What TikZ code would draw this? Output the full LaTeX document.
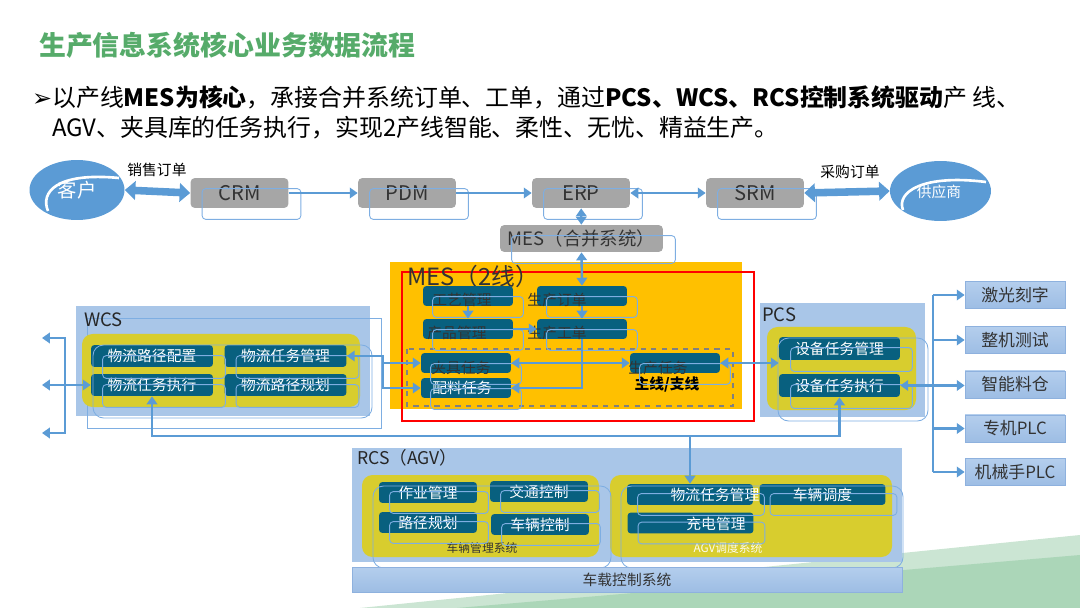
\documentclass[tikz,border=0pt]{standalone}
\usepackage{fontspec}
\setmainfont{Noto Sans CJK SC}
\newfontfamily\symfont{DejaVu Sans}
\usetikzlibrary{arrows.meta,positioning,shapes.geometric}

\definecolor{titlegreen}{HTML}{56AB6A}
\definecolor{cblue}{HTML}{5B9BD5}
\definecolor{panelblue}{HTML}{A9C6E8}
\definecolor{olive}{HTML}{D8CD2E}
\definecolor{teal}{HTML}{08607F}
\definecolor{gbox}{HTML}{A6A6A6}
\definecolor{ghostc}{HTML}{7EAEE2}
\definecolor{mesyellow}{HTML}{FFC000}
\definecolor{listtop}{HTML}{B4CEED}
\definecolor{listbot}{HTML}{9DBDE4}
\definecolor{listedge}{HTML}{8EB1DE}
\definecolor{lightgreen}{HTML}{CBE5D3}
\definecolor{midgreen}{HTML}{ABD6B8}
\definecolor{textdark}{HTML}{333333}

\begin{document}
\begin{tikzpicture}[x=0.02cm,y=-0.02cm,
    >={Triangle[length=4.5pt,width=6pt]},
    flow/.style={draw=cblue,line width=1.4pt},
    fat/.style={draw=cblue,line width=4.3pt,
      {Triangle[length=6pt,width=10.5pt]}-{Triangle[length=6pt,width=10.5pt]}},
    ghost/.style={draw=ghostc,line width=0.5pt,rounded corners=2pt},
    party/.style={ellipse,fill=cblue,minimum width=1.9cm,minimum height=1.2cm},
    party text/.style={text=white},
    grey box/.style={fill=gbox,rounded corners=2.5pt,minimum width=1.96cm,minimum height=0.6cm,
      inner sep=0pt,text=textdark,font=\fontsize{11.5}{13}\selectfont},
    task/.style={fill=teal,rounded corners=2pt,inner sep=0pt,text=white,font=\fontsize{8.4}{10}\selectfont},
    wcs box/.style={task,minimum width=2.44cm,minimum height=0.44cm},
    pcs box/.style={task,minimum width=2.42cm,minimum height=0.46cm},
    mes box/.style={task,minimum width=1.8cm,minimum height=0.4cm},
    rcs box/.style={task,minimum width=1.96cm,minimum height=0.42cm},
    agv box/.style={task,minimum width=2.52cm,minimum height=0.42cm},
    mes text/.style={text=textdark,font=\fontsize{8.4}{10}\selectfont},
    list box/.style={top color=listtop,bottom color=listbot,draw=listedge,line width=0.4pt,
      minimum width=2cm,minimum height=0.48cm,text=textdark,font=\fontsize{9.6}{11}\selectfont},
    panel title/.style={anchor=west,text=black!85,font=\fontsize{10.5}{12}\selectfont},
    sub title/.style={text=textdark,font=\fontsize{6.7}{8}\selectfont}]
    \useasboundingbox (0,0) rectangle (1080,608);

    % background band
    \fill[lightgreen] (360,608) -- (1080,535) -- (1080,608) -- cycle;
    \fill[midgreen] (457,608) -- (1080,555) -- (1080,608) -- cycle;

    % heading
    \node[anchor=west,text=titlegreen,font=\fontsize{15.3}{18}\selectfont\bfseries] (title) at (33,45)
        {生产信息系统核心业务数据流程};
    \node[anchor=west,font=\fontsize{13.6}{16}\selectfont] (line1) at (26,97)
        {{\symfont ➢}以产线\textbf{MES为核心}，承接合并系统订单、工单，通过\textbf{PCS、WCS、RCS控制系统驱动}产 线、};
    \node[anchor=west,font=\fontsize{13.6}{16}\selectfont] (line2) at (46,128)
        {AGV、夹具库的任务执行，实现2产线智能、柔性、无忧、精益生产。};

    % top row
    \node[party] (kh) at (77,190) {};
    \node[party,minimum width=2.02cm] (gys) at (940.5,191) {};
    \draw[draw=white,line width=1.5pt] (48,211) .. controls (40,192) and (57,172) .. (119,178);
    \draw[draw=white,line width=1.5pt] (903,210) .. controls (896,192) and (923,174) .. (986,182);
    \node[party text,font=\fontsize{11}{13}\selectfont] (kht) at (kh.center) {客户};
    \node[party text,font=\fontsize{8.4}{10}\selectfont] (gyst) at (939,192) {供应商};
    \node[grey box] (crm) at (239.5,193) {CRM};
    \node[grey box] (pdm) at (407,193) {PDM};
    \node[grey box] (erp) at (581,193) {ERP};
    \node[grey box] (srm) at (755,193) {SRM};
    \node[grey box,minimum width=3.26cm,minimum height=0.54cm,font=\fontsize{10.5}{12}\selectfont] (mesh) at (581.5,238.5) {MES（合并系统）};
    \node[font=\fontsize{8.4}{10}\selectfont] (xsdd) at (157,170) {销售订单};
    \node[font=\fontsize{8.4}{10}\selectfont] (cgdd) at (850,172) {采购订单};

    % MES (2 lines)
    \fill[mesyellow] (390,262) rectangle (742,409);
    \draw[red,line width=1.2pt] (402,272) rectangle (754,421);
    \draw[gray,dashed,line width=0.7pt] (407,349) rectangle (733,406);
    \node[anchor=west,text=textdark,font=\fontsize{13.5}{15}\selectfont] (mes) at (401,276) {MES（2线）};
    \node[mes box] (gy) at (468,296) {};
    \node[mes box] (dd) at (582,296) {};
    \node[mes box] (cp) at (468,329) {};
    \node[mes box] (gd) at (582,329) {};
    \node[mes box] (jj) at (466,363) {};
    \node[mes box] (pl) at (466,388) {};
    \node[mes box] (sc) at (675,363) {};
    \node[mes text] (gyt) at (462,300) {工艺管理};
    \node[mes text] (ddt) at (557,300) {生产订单};
    \node[mes text] (cpt) at (457,333) {产品管理};
    \node[mes text] (gdt) at (557,333) {生产工单};
    \node[mes text] (jjt) at (461,368) {夹具任务};
    \node[mes text,text=white] (plt) at (462,388) {配料任务};
    \node[mes text] (sct) at (658,368) {生产任务};
    \node[text=black,font=\fontsize{8.4}{10}\selectfont\bfseries] (zx) at (667,385) {主线/支线};

    % WCS
    \fill[panelblue] (76,306) rectangle (370,416);
    \draw[ghost,rounded corners=0pt] (87,318) rectangle (381,428);
    \fill[olive,rounded corners=6pt] (82,334) rectangle (360,407);
    \node[panel title] (wcs) at (78,320) {WCS};
    \node[wcs box] (wpc) at (152,356) {物流路径配置};
    \node[wcs box] (wtm) at (285.5,356) {物流任务管理};
    \node[wcs box] (wte) at (152,385) {物流任务执行};
    \node[wcs box] (wpp) at (285.5,385) {物流路径规划};
    \draw[ghost,rounded corners=6pt] (93,345) rectangle (372,418);

    % PCS
    \fill[panelblue] (760,303) rectangle (925,417);
    \fill[olive,rounded corners=6pt] (767,327) rectangle (916,410);
    \node[panel title] (pcs) at (756,315) {PCS};
    \node[pcs box] (pm) at (839.5,348.5) {设备任务管理};
    \node[pcs box] (pe) at (839.5,385.5) {设备任务执行};
    \draw[ghost,rounded corners=6pt] (778,338) rectangle (928,421);

    % devices
    \node[list box] (jg) at (1015,295) {激光刻字};
    \node[list box] (zj) at (1015,340) {整机测试};
    \node[list box] (zn) at (1015,384.5) {智能料仓};
    \node[list box] (zp) at (1015,428.5) {专机PLC};
    \node[list box] (jx) at (1015,472) {机械手PLC};

    % RCS
    \fill[panelblue] (352,448) rectangle (902,562);
    \fill[olive,rounded corners=6pt] (362,475) rectangle (599,557);
    \fill[olive,rounded corners=6pt] (610,475) rectangle (892,557);
    \node[panel title,font=\fontsize{10}{12}\selectfont] (rcs) at (351,458) {RCS（AGV）};
    \node[rcs box] (zy) at (428,492.5) {作业管理};
    \node[rcs box] (jt) at (539,491.5) {交通控制};
    \node[rcs box] (lj) at (428,522.5) {路径规划};
    \node[rcs box] (cl) at (540,524.5) {车辆控制};
    \node[agv box] (wt) at (690,494.5) {};
    \node[agv box] (dd2) at (822.5,494.5) {车辆调度};
    \node[agv box] (cd) at (690.5,523) {};
    \node[text=white,font=\fontsize{8.4}{10}\selectfont] (wtt) at (715,495) {物流任务管理};
    \node[text=white,font=\fontsize{8.4}{10}\selectfont] (cdt) at (716,524) {充电管理};
    \node[sub title] (clgl) at (482,548) {车辆管理系统};
    \node[sub title,text=white!92!olive] (agvdd) at (728,548) {AGV调度系统};
    \draw[ghost,rounded corners=6pt] (373,486) rectangle (611,568);
    \draw[ghost,rounded corners=6pt] (621,486) rectangle (903,568);
    \node[list box,minimum width=11cm,minimum height=0.5cm] (cz) at (627,579.5) {};
    \node[text=textdark,font=\fontsize{8.4}{10}\selectfont] (czt) at (627,580) {车载控制系统};

    % echo outlines
    \foreach \n in {crm,pdm,erp,srm,mesh}
        \draw[ghost] ([shift={(12,11)}]\n.south west) rectangle ([shift={(12,11)}]\n.north east);
    \foreach \n in {gy,dd,cp,gd,jj,pl,sc}
        \draw[ghost] ([shift={(10,11)}]\n.south west) rectangle ([shift={(10,11)}]\n.north east);
    \foreach \n in {wpc,wtm,wte,wpp,pm,pe}
        \draw[ghost] ([shift={(12,11)}]\n.south west) rectangle ([shift={(12,11)}]\n.north east);
    \foreach \n in {zy,jt,lj,cl,wt,dd2,cd}
        \draw[ghost] ([shift={(11,10)}]\n.south west) rectangle ([shift={(11,10)}]\n.north east);

    % business flow
    \draw[fat] (kh.east) -- (crm.west);
    \draw[fat] (srm.east) -- (gys.west);
    \draw[flow,->] (crm) -- (pdm);
    \draw[flow,->] (pdm) -- (erp);
    \draw[flow,<->] (erp) -- (srm);
    \draw[flow,<->] (erp) -- (mesh);
    \draw[flow,<->] (mesh.south) -- (dd.north);
    \draw[flow,->] (gy) -- (cp);
    \draw[flow,->] (dd) -- (gd);
    \draw[flow,->] (cp) -- (gd);
    \draw[flow,<->] (jj) -- (sc);
    \draw[flow,->] (gd.south) |- (pl.east);
    \draw[flow,<->] (sc.east) -- (sc.east -| pm.west);

    % WCS links
    \coordinate (wm) at (383,356);
    \draw[flow,<->] (wtm.east) -- (wm) |- (jj.west);
    \draw[flow,->] (wm) |- (pl.west);
    \coordinate (lt) at (42,338);
    \coordinate (lb) at (42,433);
    \coordinate (lm) at (42,385);
    \draw[flow,<->] (lt) -- (65,338) -- (65,433) -- (lb);
    \draw[flow,<->] (lm) -- (wte.west);
    \coordinate (bus) at (0,436);
    \draw[flow,<->] (wte.south) -- (wte.south |- bus) -| (pe.south);
    \draw[flow,->] (wt.north |- bus) -- (wt.north);

    % PCS to devices
    \coordinate (rv) at (933,0);
    \draw[flow,<->] (pe.east) -- (pe.east -| zn.west);
    \draw[flow] (rv |- jg.west) -- (rv |- jx.west);
    \foreach \n in {jg,zj,zp,jx}
        \draw[flow,->] (rv |- \n.west) -- (\n.west);
\end{tikzpicture}
\end{document}
